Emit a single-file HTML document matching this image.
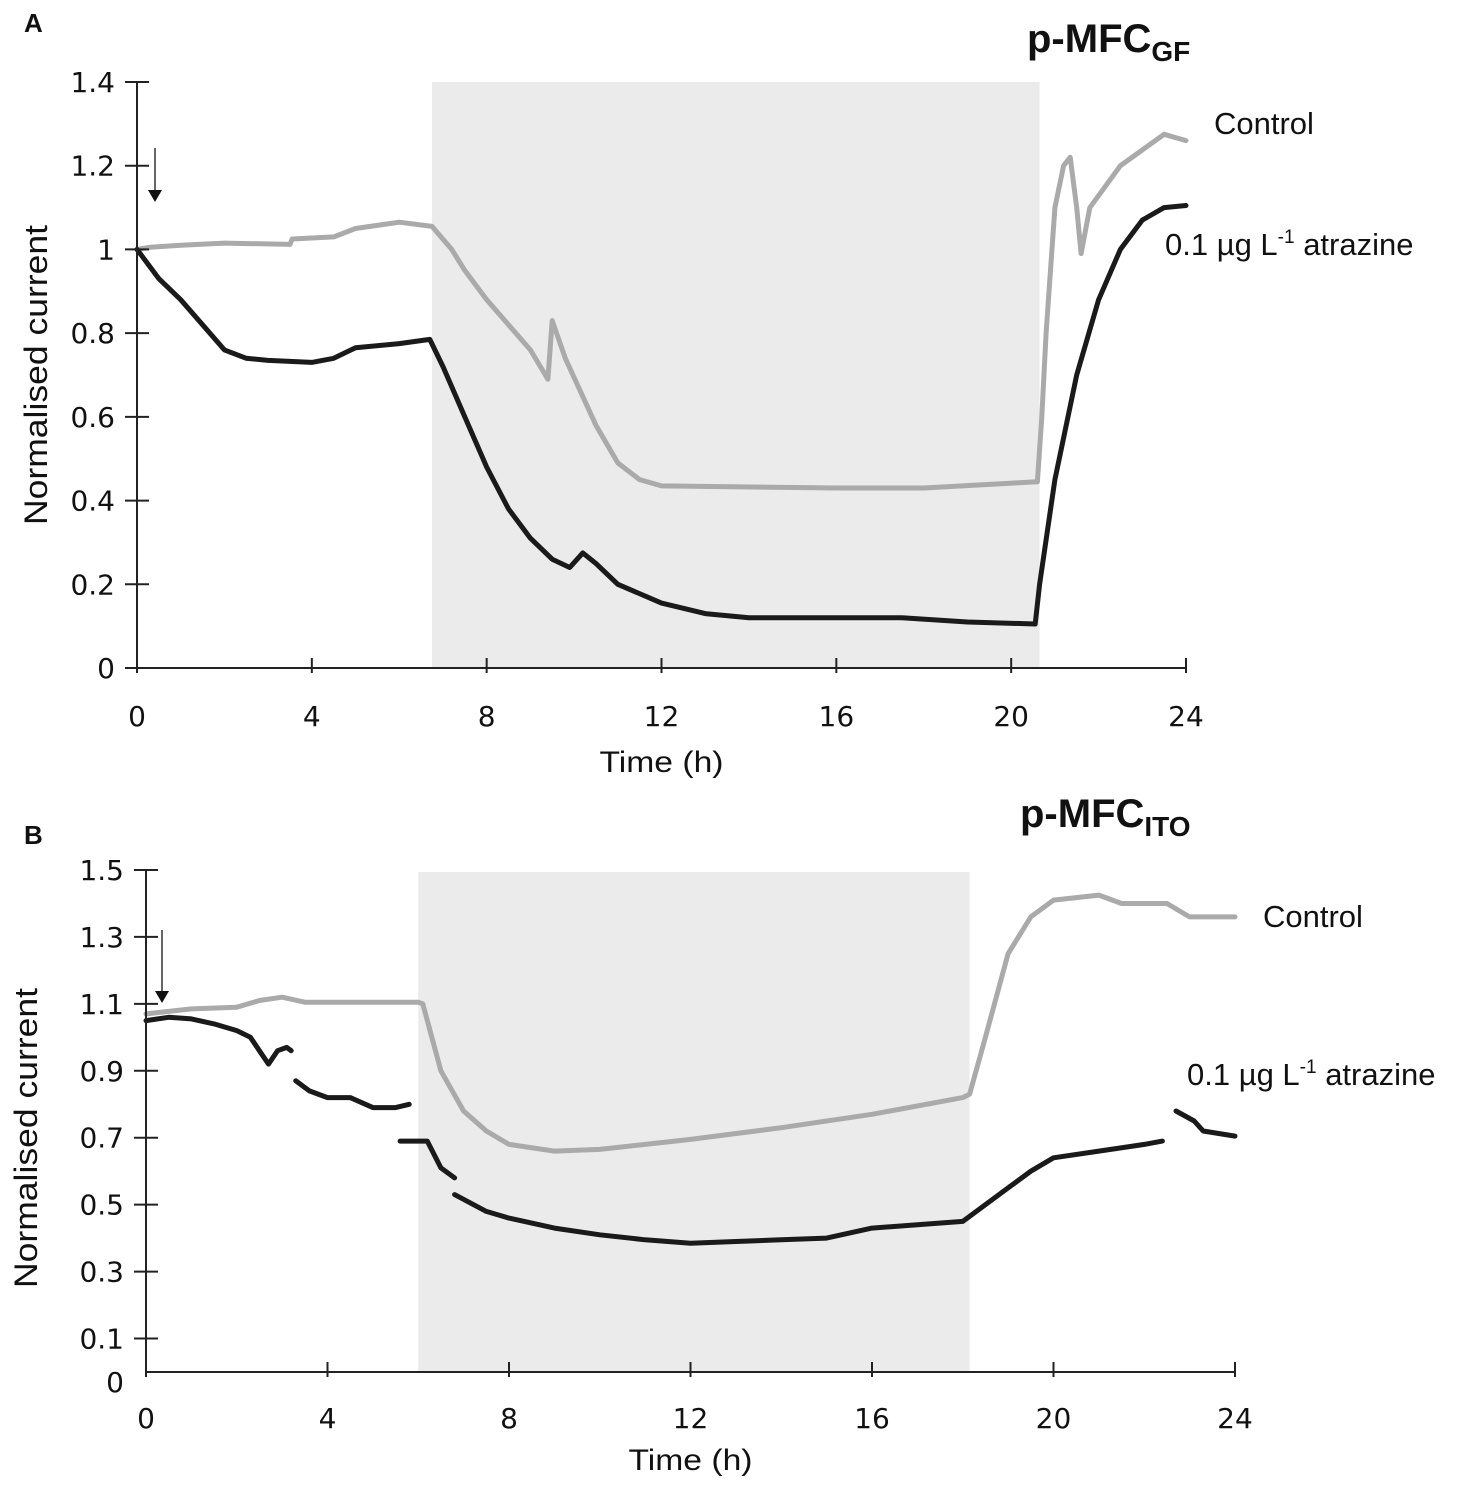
<!DOCTYPE html>
<html><head><meta charset="utf-8"><style>
body{margin:0;background:#fff;}
svg{display:block;font-family:"Liberation Sans","DejaVu Sans",sans-serif;}
</style></head><body>
<svg id="fig" width="1480" height="1491" viewBox="0 0 1480 1491"></svg>
<script>
// Panel A data (time h, normalised current)
const aCtrlT=[0,0.3,1,2,3.5,3.55,4.5,5,6,6.75,7.2,7.5,8,9,9.4,9.5,9.8,10.5,11,11.5,12,16,18,20.6,20.7,20.8,21,21.2,21.35,21.5,21.6,21.8,22.5,23.5,24];
const aCtrlV=[1.0,1.005,1.01,1.015,1.012,1.025,1.03,1.05,1.065,1.055,1.0,0.95,0.88,0.76,0.69,0.83,0.74,0.58,0.49,0.45,0.435,0.43,0.43,0.445,0.6,0.8,1.1,1.2,1.22,1.1,0.99,1.1,1.2,1.275,1.26];
const aAtrT=[0,0.5,1,1.5,2,2.5,3,4,4.5,5,6,6.7,7,7.5,8,8.5,9,9.5,9.9,10.2,10.5,11,12,13,14,17.5,19,20.55,20.65,21,21.5,22,22.5,23,23.5,24];
const aAtrV=[1.0,0.93,0.88,0.82,0.76,0.74,0.735,0.73,0.74,0.765,0.775,0.785,0.72,0.6,0.48,0.38,0.31,0.26,0.24,0.275,0.25,0.2,0.155,0.13,0.12,0.12,0.11,0.105,0.2,0.45,0.7,0.88,1.0,1.07,1.1,1.105];
// Panel B data
const bCtrlT=[0,1,2,2.5,3,3.5,6,6.1,6.5,7,7.5,8,9,10,12,14,16,18,18.15,18.5,19,19.5,20,21,21.5,22.5,23,24];
const bCtrlV=[1.07,1.085,1.09,1.11,1.12,1.105,1.105,1.1,0.9,0.78,0.72,0.68,0.66,0.665,0.695,0.73,0.77,0.82,0.83,1.0,1.25,1.36,1.41,1.425,1.4,1.4,1.36,1.36];
const bAtrSegT=[[0,0.5,1,1.5,2,2.3,2.5,2.7,2.9,3.1,3.2],[3.3,3.6,4,4.5,5,5.5,5.8],[5.6,6,6.2,6.5,6.8],[6.8,7.5,8,9,10,11,12,13,14,15,16,17,18,18.2,19,19.5,20,21,22,22.4],[22.7,23.1,23.3,24]];
const bAtrSegV=[[1.05,1.06,1.055,1.04,1.02,1.0,0.96,0.92,0.96,0.97,0.96],[0.87,0.84,0.82,0.82,0.79,0.79,0.8],[0.69,0.69,0.69,0.61,0.58],[0.53,0.48,0.46,0.43,0.41,0.395,0.385,0.39,0.395,0.4,0.43,0.44,0.45,0.47,0.55,0.6,0.64,0.66,0.68,0.69],[0.78,0.75,0.72,0.705]];
const xTicks=[0,4,8,12,16,20,24];
const aYTicks=[0,0.2,0.4,0.6,0.8,1,1.2,1.4];
const aYLabels=["0","0.2","0.4","0.6","0.8","1","1.2","1.4"];
const bYTicks=[0.1,0.3,0.5,0.7,0.9,1.1,1.3,1.5];
const bYLabels=["0.1","0.3","0.5","0.7","0.9","1.1","1.3","1.5"];

const NS="http://www.w3.org/2000/svg";
const svg=document.getElementById('fig');
function mk(tag,attrs,parent){const e=document.createElementNS(NS,tag);for(const k in attrs)e.setAttribute(k,attrs[k]);(parent||svg).appendChild(e);return e;}
function txt(s,x,y,size,anchor,parent,extra){const t=mk('text',Object.assign({x:x,y:y,'font-size':size,'text-anchor':anchor||'start',fill:'#111'},extra||{}),parent);t.textContent=s;return t;}
const tickFont={'font-family':'"DejaVu Sans",sans-serif'};

function panel(cfg){
  const g=mk('g',{});
  
  
  const X=t=>cfg.x0+(cfg.x1-cfg.x0)*t/24;
  const Y=v=>cfg.y0-(cfg.y0-cfg.yTop)*v/cfg.vTop;
  const sh=mk('rect',{x:X(cfg.shade[0]),y:cfg.shadeTop,width:X(cfg.shade[1])-X(cfg.shade[0]),height:cfg.axisY-cfg.shadeTop,fill:'#ecebec'},g);
  
  
  function line(T,V,color,name){
    const p=mk('path',{d:T.map((t,i)=>(i?'L':'M')+X(t).toFixed(1)+' '+Y(V[i]).toFixed(1)).join(''),fill:'none',stroke:color,'stroke-width':5,'stroke-linejoin':'round','stroke-linecap':'round'},g);
    
    
  }
  line(cfg.ctrlT,cfg.ctrlV,'#aaaaaa','control-series');
  cfg.atrT.forEach((T,i)=>line(T,cfg.atrV[i],'#1a1a1a','atrazine-series'));
  const ya=mk('line',{x1:cfg.x0,y1:cfg.yAxisTop,x2:cfg.x0,y2:cfg.axisY,stroke:'#222','stroke-width':2},g);
  
  
  const xa=mk('line',{x1:cfg.x0,y1:cfg.axisY,x2:X(24),y2:cfg.axisY,stroke:'#222','stroke-width':2},g);
  
  
  xTicks.forEach(t=>{
    mk('line',{x1:X(t),y1:cfg.axisY-10,x2:X(t),y2:cfg.axisY+5,stroke:'#222','stroke-width':2},g);
    const l=txt(String(t),X(t),cfg.xLabY,28,'middle',g,tickFont);
    
    
  });
  cfg.yTicks.forEach((v,i)=>{
    mk('line',{x1:cfg.x0-12,y1:Y(v),x2:cfg.x0+12,y2:Y(v),stroke:'#222','stroke-width':2},g);
    const l=txt(cfg.yLabels[i],cfg.x0-22,Y(v)+10,28,'end',g,tickFont);
    
    
  });
  if(cfg.zeroLab){const l=txt('0',cfg.x0-22,cfg.zeroLab,28,'end',g,tickFont);
    
    }
  const ar=mk('g',{},g);
  
  
  mk('line',{x1:cfg.arrow[0],y1:cfg.arrow[1],x2:cfg.arrow[0],y2:cfg.arrow[2]-10,stroke:'#333','stroke-width':1.5},ar);
  mk('polygon',{points:`${cfg.arrow[0]-7},${cfg.arrow[2]-12} ${cfg.arrow[0]+7},${cfg.arrow[2]-12} ${cfg.arrow[0]},${cfg.arrow[2]}`,fill:'#111'},ar);
  const xt=txt('Time (h)',(cfg.x0+X(24))/2,cfg.xTitleY,30,'middle',g,{textLength:124,lengthAdjust:'spacingAndGlyphs'});
  
  
  const yt=txt('Normalised current',0,0,32,'middle',g,{transform:`translate(${cfg.yTitleX},${cfg.yTitleY}) rotate(-90)`,textLength:300,lengthAdjust:'spacingAndGlyphs'});
  
  
}
panel({name:'panel-a',x0:137,x1:1186,y0:668,yTop:82,vTop:1.4,axisY:668,yAxisTop:82,shade:[6.75,20.65],shadeTop:82,
  ctrlT:aCtrlT,ctrlV:aCtrlV,atrT:[aAtrT],atrV:[aAtrV],yTicks:aYTicks,yLabels:aYLabels,xLabY:726,xTitleY:772,
  yTitleX:47,yTitleY:375,arrow:[155,148,202]});
panel({name:'panel-b',x0:146,x1:1235,y0:1372,yTop:870,vTop:1.5,axisY:1372,yAxisTop:870,shade:[6.0,18.15],shadeTop:872,
  ctrlT:bCtrlT,ctrlV:bCtrlV,atrT:bAtrSegT,atrV:bAtrSegV,yTicks:bYTicks,yLabels:bYLabels,xLabY:1428,xTitleY:1470,zeroLab:1392,
  yTitleX:37,yTitleY:1138,arrow:[162,930,1003]});

function label(s,x,y,size,name,bold){const t=txt(s,x,y,size,'start',svg,bold?{'font-weight':'bold'}:{});return t;}
label('A',24,32,26,'panel-a-label',true);
label('B',24,844,26,'panel-b-label',true);
let t=label('p-MFC',1027,52,40,'panel-a-title',true);
let s=mk('tspan',{'font-size':28,dy:9},t);s.textContent='GF';
t=label('p-MFC',1020,827,40,'panel-b-title',true);
s=mk('tspan',{'font-size':28,dy:9},t);s.textContent='ITO';
label('Control',1214,134,31,'legend-control-a');
t=label('0.1 µg L',1165,255,31,'legend-atrazine-a');
s=mk('tspan',{'font-size':19,dy:-12},t);s.textContent='-1';
s=mk('tspan',{dy:12},t);s.textContent=' atrazine';
label('Control',1263,927,31,'legend-control-b');
t=label('0.1 µg L',1187,1085,31,'legend-atrazine-b');
s=mk('tspan',{'font-size':19,dy:-12},t);s.textContent='-1';
s=mk('tspan',{dy:12},t);s.textContent=' atrazine';
</script>
</body></html>
